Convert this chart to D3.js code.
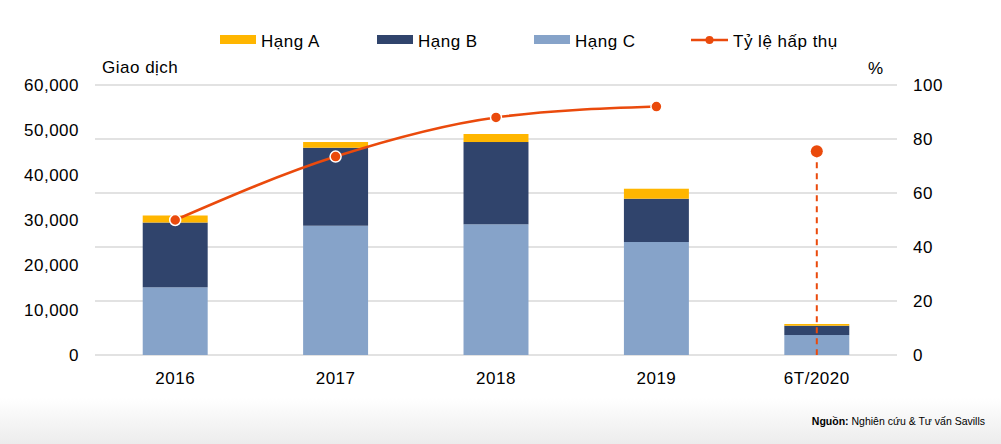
<!DOCTYPE html>
<html>
<head>
  <meta charset="utf-8">
  <title>Giao dịch và tỷ lệ hấp thụ</title>
  <script src="https://cdn.jsdelivr.net/npm/d3@7"></script>
  <style>
    body { margin: 0; background: #fff; }
    text { font-family: "Liberation Sans", Arial, sans-serif; fill: #000; }
    .lbl { font-size: 17px; letter-spacing: 0.5px; }
  </style>
</head>
<body>
  <div id="vis"></div>
  <script>
    const width = 1001
    const height = 444

    // data
    const years = ["2016", "2017", "2018", "2019", "6T/2020"]
    const hangA = [1560, 1270, 1780, 2220, 380]
    const hangB = [14400, 17330, 18290, 9620, 2070]
    const hangC = [15040, 28730, 29040, 25110, 4440]
    const absorption = [50, 73.5, 88, 92, 75.5]   // % ; last one is shown on its own
    const leftTicks = [0, 10000, 20000, 30000, 40000, 50000, 60000]
    const rightTicks = [0, 20, 40, 60, 80, 100]

    const colA = "#FFB600"
    const colB = "#30446C"
    const colC = "#86A3C9"
    const colLine = "#EA4A0C"

    const svg = d3.select("#vis").append("svg")
      .attr("width", width)
      .attr("height", height)

    // faint grey fade at the bottom
    const defs = svg.append("defs")
    const grad = defs.append("linearGradient").attr("id", "fade")
      .attr("x1", 0).attr("y1", 0).attr("x2", 0).attr("y2", 1)
    grad.append("stop").attr("offset", "0%").attr("stop-color", "#fff")
    grad.append("stop").attr("offset", "100%").attr("stop-color", "#ececec")
    svg.append("rect").attr("x", 0).attr("y", 398).attr("width", width).attr("height", 46)
      .attr("fill", "url(#fade)")

    const x = d3.scaleBand().domain(years).range([95, 897]).paddingInner(0.595).paddingOuter(0.2975)
    const yL = d3.scaleLinear().domain([0, 60000]).range([355, 85])
    const yR = d3.scaleLinear().domain([0, 100]).range([355, 85])

    // gridlines follow the right axis
    svg.append("g").selectAll("line")
      .data(rightTicks)
      .join("line")
      .attr("x1", 95).attr("x2", 897)
      .attr("y1", d => yR(d)).attr("y2", d => yR(d))
      .attr("stroke", "#d9d9d9").attr("stroke-width", 1.5)

    // left axis
    const fmt = d3.format(",")
    svg.append("g").selectAll("text")
      .data(leftTicks)
      .join("text")
      .attr("class", "lbl")
      .attr("x", 79).attr("y", d => yL(d) + 6)
      .attr("text-anchor", "end")
      .text(d => fmt(d))

    // right axis
    svg.append("g").selectAll("text")
      .data(rightTicks)
      .join("text")
      .attr("class", "lbl")
      .attr("x", 913).attr("y", d => yR(d) + 6)
      .text(d => d)

    svg.append("text").attr("class", "lbl").attr("x", 102).attr("y", 73).text("Giao dịch")
    svg.append("text").attr("class", "lbl").attr("x", 868).attr("y", 74).text("%")

    // stacked bars: C at bottom, then B, then A
    const rows = years.map((y, i) => ({ year: y, C: hangC[i], B: hangB[i], A: hangA[i] }))
    const stack = d3.stack().keys(["C", "B", "A"])(rows)
    const colors = { A: colA, B: colB, C: colC }

    svg.append("g").selectAll("g")
      .data(stack)
      .join("g")
      .attr("fill", d => colors[d.key])
      .selectAll("rect")
      .data(d => d)
      .join("rect")
      .attr("x", d => x(d.data.year))
      .attr("width", x.bandwidth())
      .attr("y", d => yL(d[1]))
      .attr("height", d => yL(d[0]) - yL(d[1]))

    // x labels
    svg.append("g").selectAll("text")
      .data(years)
      .join("text")
      .attr("class", "lbl")
      .attr("x", d => x(d) + x.bandwidth() / 2)
      .attr("y", 384)
      .attr("text-anchor", "middle")
      .text(d => d)

    // absorption line, 2016-2019 joined, 6T/2020 standalone with drop line
    const cx = d => x(d) + x.bandwidth() / 2
    const linePts = years.slice(0, 4).map((y, i) => [cx(y), yR(absorption[i])])
    svg.append("path")
      .datum(linePts)
      .attr("fill", "none")
      .attr("stroke", colLine)
      .attr("stroke-width", 2.5)
      .attr("d", d3.line().curve(d3.curveMonotoneX))

    const last = years.length - 1
    svg.append("line")
      .attr("x1", cx(years[last])).attr("x2", cx(years[last]))
      .attr("y1", yR(absorption[last])).attr("y2", yR(0))
      .attr("stroke", colLine).attr("stroke-width", 2)
      .attr("stroke-dasharray", "6,5")

    svg.append("g").selectAll("circle")
      .data(absorption)
      .join("circle")
      .attr("cx", (d, i) => cx(years[i]))
      .attr("cy", d => yR(d))
      .attr("r", (d, i) => i === last ? 6 : 5.5)
      .attr("fill", colLine)
      .attr("stroke", (d, i) => i === last ? "none" : "#fff")
      .attr("stroke-width", 1.5)

    // legend
    const lg = svg.append("g")
    const items = [
      { label: "Hạng A", color: colA, x: 220 },
      { label: "Hạng B", color: colB, x: 377 },
      { label: "Hạng C", color: colC, x: 534 }
    ]
    items.forEach(it => {
      lg.append("rect").attr("x", it.x).attr("y", 35).attr("width", 36).attr("height", 9).attr("fill", it.color)
      lg.append("text").attr("class", "lbl").attr("x", it.x + 41).attr("y", 47).text(it.label)
    })
    lg.append("line").attr("x1", 691).attr("x2", 728).attr("y1", 40).attr("y2", 40)
      .attr("stroke", colLine).attr("stroke-width", 2.5)
    lg.append("circle").attr("cx", 709.5).attr("cy", 40).attr("r", 4).attr("fill", colLine)
    lg.append("text").attr("class", "lbl").attr("x", 733).attr("y", 47).text("Tỷ lệ hấp thụ")

    // source note
    const src = svg.append("text").attr("x", 985).attr("y", 425)
      .attr("text-anchor", "end").attr("font-size", 10.5)
    src.append("tspan").attr("font-weight", "bold").text("Nguồn:")
    src.append("tspan").text(" Nghiên cứu & Tư vấn Savills")
  </script>
</body>
</html>
